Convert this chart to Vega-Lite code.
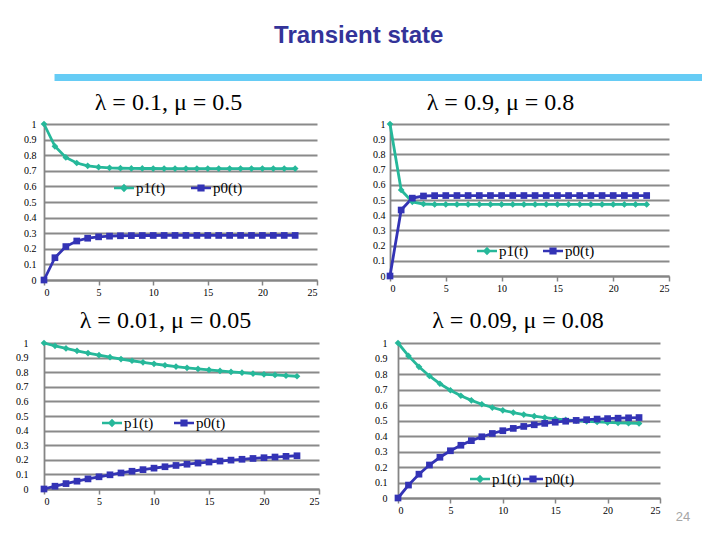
{
  "$schema": "https://vega.github.io/schema/vega-lite/v6.json",
  "background": "white",
  "padding": {"left": 15, "top": 24, "right": 0, "bottom": 0},
  "title": {
    "text": "Transient state",
    "font": "Liberation Sans",
    "fontSize": 24,
    "fontWeight": "bold",
    "color": "#333399",
    "anchor": "middle",
    "offset": 26
  },
  "config": {
    "view": {"stroke": null},
    "title": {"font": "Liberation Serif", "fontSize": 24, "fontWeight": "normal", "color": "#000000", "anchor": "middle"},
    "axis": {
      "title": null,
      "labelFont": "Liberation Serif",
      "labelFontSize": 10,
      "labelColor": "#000000",
      "domainColor": "#858585",
      "domainWidth": 1.8,
      "gridColor": "#8A8A8A",
      "gridWidth": 1.8,
      "tickColor": "#858585",
      "tickWidth": 1.5
    },
    "axisX": {"grid": false, "ticks": true, "tickSize": 5, "labelPadding": 2},
    "axisY": {"grid": true, "ticks": false, "labelPadding": 8},
    "legend": {
      "title": null,
      "orient": "none",
      "direction": "horizontal",
      "labelFont": "Liberation Serif",
      "labelFontSize": 15,
      "labelColor": "#000000",
      "labelOffset": 2,
      "symbolSize": 400,
      "symbolOpacity": 1,
      "symbolStrokeWidth": 0,
      "padding": 0
    }
  },
  "datasets": {
    "probs": [
      {"panel": "a", "t": 0, "p1": 1, "p0": 0},
      {"panel": "a", "t": 1, "p1": 0.8571, "p0": 0.1429},
      {"panel": "a", "t": 2, "p1": 0.7857, "p0": 0.2143},
      {"panel": "a", "t": 3, "p1": 0.75, "p0": 0.25},
      {"panel": "a", "t": 4, "p1": 0.7321, "p0": 0.2679},
      {"panel": "a", "t": 5, "p1": 0.7232, "p0": 0.2768},
      {"panel": "a", "t": 6, "p1": 0.7188, "p0": 0.2812},
      {"panel": "a", "t": 7, "p1": 0.7165, "p0": 0.2835},
      {"panel": "a", "t": 8, "p1": 0.7154, "p0": 0.2846},
      {"panel": "a", "t": 9, "p1": 0.7149, "p0": 0.2851},
      {"panel": "a", "t": 10, "p1": 0.7146, "p0": 0.2854},
      {"panel": "a", "t": 11, "p1": 0.7144, "p0": 0.2856},
      {"panel": "a", "t": 12, "p1": 0.7143, "p0": 0.2857},
      {"panel": "a", "t": 13, "p1": 0.7143, "p0": 0.2857},
      {"panel": "a", "t": 14, "p1": 0.7143, "p0": 0.2857},
      {"panel": "a", "t": 15, "p1": 0.7143, "p0": 0.2857},
      {"panel": "a", "t": 16, "p1": 0.7143, "p0": 0.2857},
      {"panel": "a", "t": 17, "p1": 0.7143, "p0": 0.2857},
      {"panel": "a", "t": 18, "p1": 0.7143, "p0": 0.2857},
      {"panel": "a", "t": 19, "p1": 0.7143, "p0": 0.2857},
      {"panel": "a", "t": 20, "p1": 0.7143, "p0": 0.2857},
      {"panel": "a", "t": 21, "p1": 0.7143, "p0": 0.2857},
      {"panel": "a", "t": 22, "p1": 0.7143, "p0": 0.2857},
      {"panel": "a", "t": 23, "p1": 0.7143, "p0": 0.2857},
      {"panel": "b", "t": 0, "p1": 1, "p0": 0},
      {"panel": "b", "t": 1, "p1": 0.5659, "p0": 0.4341},
      {"panel": "b", "t": 2, "p1": 0.4878, "p0": 0.5122},
      {"panel": "b", "t": 3, "p1": 0.4737, "p0": 0.5263},
      {"panel": "b", "t": 4, "p1": 0.4712, "p0": 0.5288},
      {"panel": "b", "t": 5, "p1": 0.4707, "p0": 0.5293},
      {"panel": "b", "t": 6, "p1": 0.4706, "p0": 0.5294},
      {"panel": "b", "t": 7, "p1": 0.4706, "p0": 0.5294},
      {"panel": "b", "t": 8, "p1": 0.4706, "p0": 0.5294},
      {"panel": "b", "t": 9, "p1": 0.4706, "p0": 0.5294},
      {"panel": "b", "t": 10, "p1": 0.4706, "p0": 0.5294},
      {"panel": "b", "t": 11, "p1": 0.4706, "p0": 0.5294},
      {"panel": "b", "t": 12, "p1": 0.4706, "p0": 0.5294},
      {"panel": "b", "t": 13, "p1": 0.4706, "p0": 0.5294},
      {"panel": "b", "t": 14, "p1": 0.4706, "p0": 0.5294},
      {"panel": "b", "t": 15, "p1": 0.4706, "p0": 0.5294},
      {"panel": "b", "t": 16, "p1": 0.4706, "p0": 0.5294},
      {"panel": "b", "t": 17, "p1": 0.4706, "p0": 0.5294},
      {"panel": "b", "t": 18, "p1": 0.4706, "p0": 0.5294},
      {"panel": "b", "t": 19, "p1": 0.4706, "p0": 0.5294},
      {"panel": "b", "t": 20, "p1": 0.4706, "p0": 0.5294},
      {"panel": "b", "t": 21, "p1": 0.4706, "p0": 0.5294},
      {"panel": "b", "t": 22, "p1": 0.4706, "p0": 0.5294},
      {"panel": "b", "t": 23, "p1": 0.4706, "p0": 0.5294},
      {"panel": "c", "t": 0, "p1": 1, "p0": 0},
      {"panel": "c", "t": 1, "p1": 0.9809, "p0": 0.0191},
      {"panel": "c", "t": 2, "p1": 0.963, "p0": 0.037},
      {"panel": "c", "t": 3, "p1": 0.9464, "p0": 0.0536},
      {"panel": "c", "t": 4, "p1": 0.9308, "p0": 0.0692},
      {"panel": "c", "t": 5, "p1": 0.9163, "p0": 0.0837},
      {"panel": "c", "t": 6, "p1": 0.9028, "p0": 0.0972},
      {"panel": "c", "t": 7, "p1": 0.8902, "p0": 0.1098},
      {"panel": "c", "t": 8, "p1": 0.8784, "p0": 0.1216},
      {"panel": "c", "t": 9, "p1": 0.8674, "p0": 0.1326},
      {"panel": "c", "t": 10, "p1": 0.8572, "p0": 0.1428},
      {"panel": "c", "t": 11, "p1": 0.8476, "p0": 0.1524},
      {"panel": "c", "t": 12, "p1": 0.8387, "p0": 0.1613},
      {"panel": "c", "t": 13, "p1": 0.8303, "p0": 0.1697},
      {"panel": "c", "t": 14, "p1": 0.8226, "p0": 0.1774},
      {"panel": "c", "t": 15, "p1": 0.8153, "p0": 0.1847},
      {"panel": "c", "t": 16, "p1": 0.8086, "p0": 0.1914},
      {"panel": "c", "t": 17, "p1": 0.8022, "p0": 0.1978},
      {"panel": "c", "t": 18, "p1": 0.7964, "p0": 0.2036},
      {"panel": "c", "t": 19, "p1": 0.7908, "p0": 0.2092},
      {"panel": "c", "t": 20, "p1": 0.7857, "p0": 0.2143},
      {"panel": "c", "t": 21, "p1": 0.781, "p0": 0.219},
      {"panel": "c", "t": 22, "p1": 0.7765, "p0": 0.2235},
      {"panel": "c", "t": 23, "p1": 0.7723, "p0": 0.2277},
      {"panel": "d", "t": 0, "p1": 1, "p0": 0},
      {"panel": "d", "t": 1, "p1": 0.9166, "p0": 0.0834},
      {"panel": "d", "t": 2, "p1": 0.8463, "p0": 0.1537},
      {"panel": "d", "t": 3, "p1": 0.7871, "p0": 0.2129},
      {"panel": "d", "t": 4, "p1": 0.7372, "p0": 0.2628},
      {"panel": "d", "t": 5, "p1": 0.6952, "p0": 0.3048},
      {"panel": "d", "t": 6, "p1": 0.6598, "p0": 0.3402},
      {"panel": "d", "t": 7, "p1": 0.63, "p0": 0.37},
      {"panel": "d", "t": 8, "p1": 0.6049, "p0": 0.3951},
      {"panel": "d", "t": 9, "p1": 0.5837, "p0": 0.4163},
      {"panel": "d", "t": 10, "p1": 0.5659, "p0": 0.4341},
      {"panel": "d", "t": 11, "p1": 0.5509, "p0": 0.4491},
      {"panel": "d", "t": 12, "p1": 0.5382, "p0": 0.4618},
      {"panel": "d", "t": 13, "p1": 0.5276, "p0": 0.4724},
      {"panel": "d", "t": 14, "p1": 0.5186, "p0": 0.4814},
      {"panel": "d", "t": 15, "p1": 0.511, "p0": 0.489},
      {"panel": "d", "t": 16, "p1": 0.5046, "p0": 0.4954},
      {"panel": "d", "t": 17, "p1": 0.4993, "p0": 0.5007},
      {"panel": "d", "t": 18, "p1": 0.4947, "p0": 0.5053},
      {"panel": "d", "t": 19, "p1": 0.4909, "p0": 0.5091},
      {"panel": "d", "t": 20, "p1": 0.4878, "p0": 0.5122},
      {"panel": "d", "t": 21, "p1": 0.4851, "p0": 0.5149},
      {"panel": "d", "t": 22, "p1": 0.4828, "p0": 0.5172},
      {"panel": "d", "t": 23, "p1": 0.4809, "p0": 0.5191}
    ]
  },
  "spacing": 12,
  "resolve": {"legend": {"color": "independent", "shape": "independent"}},
  "vconcat": [
    {
      "spacing": 10,
      "resolve": {"legend": {"color": "independent", "shape": "independent"}},
      "vconcat": [
        {
          "width": 658,
          "height": 7,
          "data": {"values": [{"bar": "rule"}]},
          "mark": {"type": "rect", "color": "#66CCF5"},
          "encoding": {
            "x": {"datum": 0.016, "type": "quantitative", "scale": {"domain": [0, 1]}, "axis": null},
            "x2": {"datum": 1}
          }
        },
        {
          "spacing": 54,
          "resolve": {"legend": {"color": "independent", "shape": "independent"}},
          "hconcat": [
            {
              "width": 273,
              "height": 156,
              "title": {"text": "λ = 0.1, μ = 0.5", "offset": 3, "dx": -12},
              "data": {"name": "probs"},
              "transform": [{"filter": "datum.panel == 'a'"}, {"fold": ["p1", "p0"], "as": ["series", "p"]}],
              "encoding": {
                "x": {"field": "t", "type": "quantitative", "scale": {"domain": [0, 25], "nice": false}, "axis": {"values": [0, 5, 10, 15, 20, 25]}},
                "y": {"field": "p", "type": "quantitative", "scale": {"domain": [0, 1], "nice": false}, "axis": {"values": [0, 0.1, 0.2, 0.3, 0.4, 0.5, 0.6, 0.7, 0.8, 0.9, 1], "format": ".1~f"}}
              },
              "layer": [
                {"transform": [{"filter": "datum.series == 'p1'"}], "mark": {"type": "line", "strokeWidth": 2.8, "color": "#26B89A"}},
                {"transform": [{"filter": "datum.series == 'p0'"}], "mark": {"type": "line", "strokeWidth": 2.8, "color": "#3333B5"}},
                {"transform": [{"filter": "datum.series == 'p1'"}], "mark": {"type": "point", "shape": "diamond", "filled": true, "opacity": 1, "size": 45, "color": "#26B89A"}},
                {"transform": [{"filter": "datum.series == 'p0'"}], "mark": {"type": "point", "shape": "square", "filled": true, "opacity": 1, "size": 45, "color": "#3333B5"}},
                {
                  "transform": [{"filter": "datum.t < 0"}],
                  "mark": {"type": "point", "filled": true},
                  "encoding": {
                    "shape": {"field": "series", "type": "nominal", "scale": {"domain": ["p1", "p0"], "range": ["M-1,-0.12H1V0.12H-1Z M0,-0.42L0.42,0L0,0.42L-0.42,0Z", "M-1,-0.12H1V0.12H-1Z M-0.36,-0.36H0.36V0.36H-0.36Z"]}},
                    "color": {
                      "field": "series", "type": "nominal",
                      "scale": {"domain": ["p1", "p0"], "range": ["#26B89A", "#3333B5"]},
                      "legend": {"legendX": 70, "legendY": 54, "columnPadding": 25, "labelExpr": "datum.label + '(t)'"}
                    }
                  }
                }
              ]
            },
            {
              "width": 279,
              "height": 152,
              "title": {"text": "λ  = 0.9, μ = 0.8", "offset": 3, "dx": -29},
              "data": {"name": "probs"},
              "transform": [{"filter": "datum.panel == 'b'"}, {"fold": ["p1", "p0"], "as": ["series", "p"]}],
              "encoding": {
                "x": {"field": "t", "type": "quantitative", "scale": {"domain": [0, 25], "nice": false}, "axis": {"values": [0, 5, 10, 15, 20, 25]}},
                "y": {"field": "p", "type": "quantitative", "scale": {"domain": [0, 1], "nice": false}, "axis": {"values": [0, 0.1, 0.2, 0.3, 0.4, 0.5, 0.6, 0.7, 0.8, 0.9, 1], "format": ".1~f", "labelPadding": 5}}
              },
              "layer": [
                {"transform": [{"filter": "datum.series == 'p1'"}], "mark": {"type": "line", "strokeWidth": 2.8, "color": "#26B89A"}},
                {"transform": [{"filter": "datum.series == 'p0'"}], "mark": {"type": "line", "strokeWidth": 2.8, "color": "#3333B5"}},
                {"transform": [{"filter": "datum.series == 'p1'"}], "mark": {"type": "point", "shape": "diamond", "filled": true, "opacity": 1, "size": 45, "color": "#26B89A"}},
                {"transform": [{"filter": "datum.series == 'p0'"}], "mark": {"type": "point", "shape": "square", "filled": true, "opacity": 1, "size": 45, "color": "#3333B5"}},
                {
                  "transform": [{"filter": "datum.t < 0"}],
                  "mark": {"type": "point", "filled": true},
                  "encoding": {
                    "shape": {"field": "series", "type": "nominal", "scale": {"domain": ["p1", "p0"], "range": ["M-1,-0.12H1V0.12H-1Z M0,-0.42L0.42,0L0,0.42L-0.42,0Z", "M-1,-0.12H1V0.12H-1Z M-0.36,-0.36H0.36V0.36H-0.36Z"]}},
                    "color": {
                      "field": "series", "type": "nominal",
                      "scale": {"domain": ["p1", "p0"], "range": ["#26B89A", "#3333B5"]},
                      "legend": {"legendX": 87, "legendY": 117, "columnPadding": 14, "labelExpr": "datum.label + '(t)'"}
                    }
                  }
                }
              ]
            }
          ]
        }
      ]
    },
    {
      "spacing": 54,
      "resolve": {"legend": {"color": "independent", "shape": "independent"}},
      "hconcat": [
        {
          "width": 275,
          "height": 146,
          "title": {"text": "λ = 0.01, μ = 0.05", "offset": 4, "dx": -16},
          "data": {"name": "probs"},
          "transform": [{"filter": "datum.panel == 'c'"}, {"fold": ["p1", "p0"], "as": ["series", "p"]}],
          "encoding": {
            "x": {"field": "t", "type": "quantitative", "scale": {"domain": [0, 25], "nice": false}, "axis": {"values": [0, 5, 10, 15, 20, 25]}},
            "y": {"field": "p", "type": "quantitative", "scale": {"domain": [0, 1], "nice": false}, "axis": {"values": [0, 0.1, 0.2, 0.3, 0.4, 0.5, 0.6, 0.7, 0.8, 0.9, 1], "format": ".1~f", "labelPadding": 16}}
          },
          "layer": [
            {"transform": [{"filter": "datum.series == 'p1'"}], "mark": {"type": "line", "strokeWidth": 2.8, "color": "#26B89A"}},
            {"transform": [{"filter": "datum.series == 'p0'"}], "mark": {"type": "line", "strokeWidth": 2.8, "color": "#3333B5"}},
            {"transform": [{"filter": "datum.series == 'p1'"}], "mark": {"type": "point", "shape": "diamond", "filled": true, "opacity": 1, "size": 45, "color": "#26B89A"}},
            {"transform": [{"filter": "datum.series == 'p0'"}], "mark": {"type": "point", "shape": "square", "filled": true, "opacity": 1, "size": 45, "color": "#3333B5"}},
            {
              "transform": [{"filter": "datum.t < 0"}],
              "mark": {"type": "point", "filled": true},
              "encoding": {
                "shape": {"field": "series", "type": "nominal", "scale": {"domain": ["p1", "p0"], "range": ["M-1,-0.12H1V0.12H-1Z M0,-0.42L0.42,0L0,0.42L-0.42,0Z", "M-1,-0.12H1V0.12H-1Z M-0.36,-0.36H0.36V0.36H-0.36Z"]}},
                "color": {
                  "field": "series", "type": "nominal",
                  "scale": {"domain": ["p1", "p0"], "range": ["#26B89A", "#3333B5"]},
                  "legend": {"legendX": 58, "legendY": 70, "columnPadding": 20, "labelExpr": "datum.label + '(t)'"}
                }
              }
            }
          ]
        },
        {
          "width": 262,
          "height": 155,
          "title": {"text": "λ  = 0.09, μ = 0.08", "offset": 4, "dx": -11},
          "encoding": {
            "x": {"type": "quantitative", "scale": {"domain": [0, 25], "nice": false}, "axis": {"values": [0, 5, 10, 15, 20, 25]}},
            "y": {"type": "quantitative", "scale": {"domain": [0, 1], "nice": false}, "axis": {"values": [0, 0.1, 0.2, 0.3, 0.4, 0.5, 0.6, 0.7, 0.8, 0.9, 1], "format": ".1~f", "labelPadding": 11}}
          },
          "layer": [
            {
              "data": {"name": "probs"},
              "transform": [{"filter": "datum.panel == 'd'"}, {"fold": ["p1", "p0"], "as": ["series", "p"]}],
              "encoding": {
                "x": {"field": "t", "type": "quantitative"},
                "y": {"field": "p", "type": "quantitative"}
              },
              "layer": [
                {"transform": [{"filter": "datum.series == 'p1'"}], "mark": {"type": "line", "strokeWidth": 2.8, "color": "#26B89A"}},
                {"transform": [{"filter": "datum.series == 'p0'"}], "mark": {"type": "line", "strokeWidth": 2.8, "color": "#3333B5"}},
                {"transform": [{"filter": "datum.series == 'p1'"}], "mark": {"type": "point", "shape": "diamond", "filled": true, "opacity": 1, "size": 45, "color": "#26B89A"}},
                {"transform": [{"filter": "datum.series == 'p0'"}], "mark": {"type": "point", "shape": "square", "filled": true, "opacity": 1, "size": 45, "color": "#3333B5"}},
                {
                  "transform": [{"filter": "datum.t < 0"}],
                  "mark": {"type": "point", "filled": true},
                  "encoding": {
                    "shape": {"field": "series", "type": "nominal", "scale": {"domain": ["p1", "p0"], "range": ["M-1,-0.12H1V0.12H-1Z M0,-0.42L0.42,0L0,0.42L-0.42,0Z", "M-1,-0.12H1V0.12H-1Z M-0.36,-0.36H0.36V0.36H-0.36Z"]}},
                    "color": {
                      "field": "series", "type": "nominal",
                      "scale": {"domain": ["p1", "p0"], "range": ["#26B89A", "#3333B5"]},
                      "legend": {"legendX": 72, "legendY": 126, "columnPadding": 1, "labelExpr": "datum.label + '(t)'"}
                    }
                  }
                }
              ]
            },
            {
              "data": {"values": [{"page": "24"}]},
              "mark": {"type": "text", "font": "Liberation Sans", "fontSize": 13, "color": "#A6A6A6"},
              "encoding": {
                "x": {"datum": 27.2, "type": "quantitative"},
                "y": {"datum": -0.12, "type": "quantitative"},
                "text": {"field": "page"}
              }
            }
          ]
        }
      ]
    }
  ]
}
